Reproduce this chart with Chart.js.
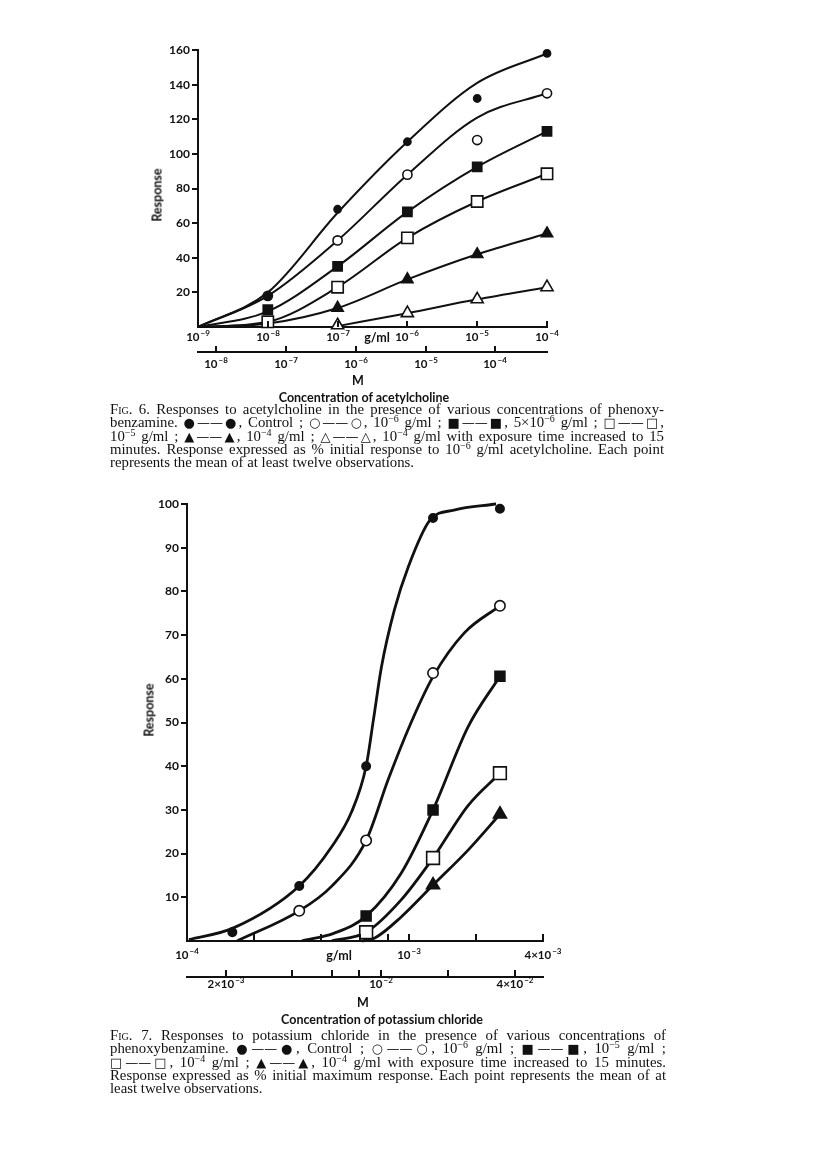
<!DOCTYPE html>
<html>
<head>
<meta charset="utf-8">
<script src="https://cdn.jsdelivr.net/npm/chart.js@4/dist/chart.umd.min.js"></script>
<style>
  body { margin: 0; background: #fff; }
  #page { position: relative; width: 816px; height: 1156px; overflow: hidden; color: #111; }
  canvas { position: absolute; }
  .lbl { position: absolute; font-family: Lato, "DejaVu Sans", sans-serif; font-weight: bold; font-size: 12.5px; white-space: nowrap; }
  .rot { transform: translate(-50%, -50%) rotate(-90deg); }
  .ctr { transform: translate(-50%, -50%); }
  .cap { position: absolute; left: 110px; font-family: "Liberation Serif", "DejaVu Serif", serif; font-size: 14.8px; line-height: 13.3px; }
  .cap div { text-align: justify; text-align-last: justify; white-space: nowrap; }
  .cap div.last { text-align-last: left; }
  .cap sup { font-size: 10px; line-height: 0; vertical-align: 5px; }
  .sym { font-family: "DejaVu Sans", sans-serif; font-size: 13px; }
  .sc { font-variant: small-caps; }
</style>
</head>
<body>
<div id="page">
  <canvas id="achChart" width="500" height="360" style="left:100px; top:30px;"></canvas>
  <div class="lbl rot" style="left:157px; top:195px;">Response</div>
  <div class="lbl ctr" style="left:377px; top:337px;">g/ml</div>
  <div class="lbl ctr" style="left:358px; top:380px;">M</div>
  <div class="lbl ctr" style="left:364px; top:397px;">Concentration of acetylcholine</div>
  <div class="cap" style="top:403px; width:554px;">
    <div><span class="sc">Fig.</span> 6. Responses to acetylcholine in the presence of various concentrations of phenoxy-</div>
    <div>benzamine. <span class="sym">●——●</span>, Control ; <span class="sym">○——○</span>, 10<sup>−6</sup> g/ml ; <span class="sym">■——■</span>, 5×10<sup>−6</sup> g/ml ; <span class="sym">□——□</span>,</div>
    <div>10<sup>−5</sup> g/ml ; <span class="sym">▲——▲</span>, 10<sup>−4</sup> g/ml ; <span class="sym">△——△</span>, 10<sup>−4</sup> g/ml with exposure time increased to 15</div>
    <div>minutes. Response expressed as % initial response to 10<sup>−6</sup> g/ml acetylcholine. Each point</div>
    <div class="last">represents the mean of at least twelve observations.</div>
  </div>

  <canvas id="kclChart" width="500" height="535" style="left:87px; top:480px;"></canvas>
  <div class="lbl rot" style="left:149px; top:710px;">Response</div>
  <div class="lbl ctr" style="left:339px; top:955px;">g/ml</div>
  <div class="lbl ctr" style="left:363px; top:1002px;">M</div>
  <div class="lbl ctr" style="left:382px; top:1019px;">Concentration of potassium chloride</div>
  <div class="cap" style="top:1029px; width:556px;">
    <div><span class="sc">Fig.</span> 7. Responses to potassium chloride in the presence of various concentrations of</div>
    <div>phenoxybenzamine. <span class="sym">●——●</span>, Control ; <span class="sym">○——○</span>, 10<sup>−6</sup> g/ml ; <span class="sym">■——■</span>, 10<sup>−5</sup> g/ml ;</div>
    <div><span class="sym">□——□</span>, 10<sup>−4</sup> g/ml ; <span class="sym">▲——▲</span>, 10<sup>−4</sup> g/ml with exposure time increased to 15 minutes.</div>
    <div>Response expressed as % initial maximum response. Each point represents the mean of at</div>
    <div class="last">least twelve observations.</div>
  </div>
</div>

<script>
// ---- Fig. 6: acetylcholine, concentrations in g/ml ----
const achDoses = [1e-8, 1e-7, 1e-6, 1e-5, 1e-4];
const achControl = [18, 68, 107, 132, 158];
const achPbz1e6 = [18, 50, 88, 108, 135];
const achPbz5e6 = [10, 35, 66.5, 92.5, 113];
const achPbz1e5 = [3, 23, 51.5, 72.5, 88.5];
const achPbz1e4 = [null, 11, 27.5, 42, 54];
const achPbz1e4long = [null, 1, 8, 16, 23];

// fitted curves as drawn in the figure
const achCurveDoses = [1e-9, 1e-8, 1e-7, 1e-6, 1e-5, 1e-4];
const achCurveControl = [0, 20, 66, 107, 141, 158];
const achCurvePbz1e6 = [0, 18, 50, 88, 121, 135];
const achCurvePbz5e6 = [0, 9, 35, 66.5, 92.5, 113];
const achCurvePbz1e5 = [0, 3, 23, 51.5, 72.5, 88.5];
const achCurvePbz1e4 = [0, 2, 11, 27.5, 42, 54];
const achCurvePbz1e4long = [null, null, 0.5, 8, 16, 23];

const achYTicks = [20, 40, 60, 80, 100, 120, 140, 160];
const achGmlTicks = [1e-9, 1e-8, 1e-7, 1e-6, 1e-5, 1e-4];
const achGmlLabels = ['10^-9', '10^-8', '10^-7', '10^-6', '10^-5', '10^-4'];
const achMTicks = [1e-8, 1e-7, 1e-6, 1e-5, 1e-4];
const achMLabels = ['10^-8', '10^-7', '10^-6', '10^-5', '10^-4'];
const achGramsPerMl = 0.1817; // g/ml per mol/l (ACh chloride)

// ---- Fig. 7: potassium chloride, concentrations in g/ml ----
const kclDoses = [1.6e-4, 3.2e-4, 6.4e-4, 1.28e-3, 2.56e-3];
const kclControl = [2, 12.6, 40, 96.8, 98.9];
const kclPbz1e6 = [null, 6.9, 23, 61.3, 76.7];
const kclPbz1e5 = [null, null, 5.7, 30, 60.6];
const kclPbz1e4 = [null, null, 2, 19, 38.4];
const kclPbz1e4long = [null, null, null, 12.8, 29];

const kclCurveControlX = [1.02e-4, 1.62e-4, 3.2e-4, 4.47e-4, 5.5e-4, 6.4e-4, 6.9e-4, 7.5e-4, 8.57e-4, 9.9e-4, 1.24e-3, 1.59e-3, 2.46e-3];
const kclCurveControlY = [0.3, 3, 12.6, 21.5, 29.5, 40, 50.6, 62.7, 75.7, 85.6, 96.3, 98.6, 100];
const kclCurvePbz1e6X = [1.68e-4, 3.2e-4, 4.47e-4, 6.4e-4, 8.05e-4, 1.02e-3, 1.28e-3, 1.77e-3, 2.56e-3];
const kclCurvePbz1e6Y = [0, 6.9, 12.5, 23, 37, 50, 60.5, 70.5, 76.7];
const kclCurvePbz1e5X = [3.28e-4, 4.6e-4, 6.4e-4, 9.2e-4, 1.28e-3, 1.84e-3, 2.56e-3];
const kclCurvePbz1e5Y = [0, 1.8, 5.7, 15.5, 30, 49, 60.6];
const kclCurvePbz1e4X = [4.47e-4, 6.4e-4, 9.2e-4, 1.28e-3, 1.84e-3, 2.56e-3];
const kclCurvePbz1e4Y = [0, 2, 9.4, 19, 31, 38.4];
const kclCurvePbz1e4longX = [6.1e-4, 7.0e-4, 9.2e-4, 1.28e-3, 1.84e-3, 2.56e-3];
const kclCurvePbz1e4longY = [0, 0.7, 5.5, 12.8, 20.8, 29];

const kclYTicks = [10, 20, 30, 40, 50, 60, 70, 80, 90, 100];
const kclGmlTicks = [1e-4, 2e-4, 4e-4, 6e-4, 8e-4, 1e-3, 2e-3, 4e-3];
const kclGmlLabels = ['10^-4', '', '', '', '', '10^-3', '', '4×10^-3'];
const kclMTicks = [2e-3, 4e-3, 6e-3, 8e-3, 1e-2, 2e-2, 4e-2];
const kclMLabels = ['2×10^-3', '', '', '', '10^-2', '', '4×10^-2'];
const kclGramsPerMl = 0.07455; // g/ml per mol/l

const ink = '#111';
const fontFam = 'Lato, "DejaVu Sans", sans-serif';
const tickFont = { family: fontFam, weight: 'bold', size: 12 };

function pts(xs, ys) {
    const out = [];
    xs.forEach((x, i) => { if (ys[i] !== null) out.push({ x: x, y: ys[i] }); });
    return out;
}

function markers(xs, ys, style, filled, r) {
    return {
        data: pts(xs, ys),
        showLine: false,
        pointStyle: style,
        pointRadius: r,
        pointHoverRadius: r,
        pointBorderColor: ink,
        pointBorderWidth: 1.6,
        pointBackgroundColor: filled ? ink : '#fff',
        clip: false
    };
}

function curve(xs, ys, w) {
    return {
        data: pts(xs, ys),
        showLine: true,
        borderColor: ink,
        borderWidth: w,
        pointRadius: 0,
        cubicInterpolationMode: 'monotone',
        clip: false
    };
}

// concentration axes: ticks pointing up, labels like 10^-8 with a raised exponent
const concAxes = {
    id: 'concAxes',
    afterDraw(chart, args, opts) {
        const ctx = chart.ctx;
        ctx.save();
        ctx.strokeStyle = ink;
        ctx.fillStyle = ink;
        ctx.lineWidth = 2;
        ['x', 'x2'].forEach(id => {
            const s = chart.scales[id];
            const labels = opts.labels[id];
            s.ticks.forEach((t, i) => {
                const px = Math.round(s.getPixelForValue(t.value));
                if (t.value > s.min * 1.001) {
                    ctx.beginPath();
                    ctx.moveTo(px, s.top);
                    ctx.lineTo(px, s.top - opts.length);
                    ctx.stroke();
                }
                const txt = labels[i];
                if (!txt) return;
                const parts = txt.split('^');
                const base = parts[0];
                const exp = parts[1].replace('-', '−');
                ctx.font = 'bold 11.5px ' + fontFam;
                const wb = ctx.measureText(base).width;
                ctx.font = 'bold 8px ' + fontFam;
                const we = ctx.measureText(exp).width;
                const x0 = px - (wb + we + 1) / 2;
                const yb = s.top + opts.baseline[id];
                ctx.font = 'bold 11.5px ' + fontFam;
                ctx.fillText(base, x0, yb);
                ctx.font = 'bold 8px ' + fontFam;
                ctx.fillText(exp, x0 + wb + 1, yb - 5);
            });
        });
        ctx.restore();
    }
};

function makeScales(cfg) {
    return {
        y: {
            min: 0, max: cfg.yMax,
            afterFit: s => { s.width = cfg.yWidth; },
            afterBuildTicks: s => { s.ticks = cfg.yTicks.map(v => ({ value: v })); },
            grid: { drawOnChartArea: false, drawTicks: true, tickLength: 6, color: ink, lineWidth: 2 },
            border: { color: ink, width: 2 },
            ticks: { color: ink, font: tickFont, padding: 2 }
        },
        x: {
            type: 'logarithmic', position: 'bottom', weight: 0,
            min: cfg.xMin, max: cfg.xMax,
            afterFit: s => { s.height = cfg.xHeight; },
            afterBuildTicks: s => { s.ticks = cfg.gmlTicks.map(v => ({ value: v })); },
            grid: { display: false, drawTicks: false },
            border: { color: ink, width: 2 },
            ticks: { display: false }
        },
        x2: {
            type: 'logarithmic', position: 'bottom', weight: 1,
            min: cfg.xMin / cfg.factor, max: cfg.xMax / cfg.factor,
            afterFit: s => { s.height = 30; },
            afterBuildTicks: s => { s.ticks = cfg.mTicks.map(v => ({ value: v })); },
            grid: { display: false, drawTicks: false },
            border: { color: ink, width: 2 },
            ticks: { display: false }
        }
    };
}

new Chart(document.getElementById('achChart'), {
    type: 'scatter',
    data: {
        datasets: [
            markers(achDoses, achControl, 'circle', true, 3.6),
            markers(achDoses, achPbz1e6, 'circle', false, 4.6),
            markers(achDoses, achPbz5e6, 'rect', true, 6.5),
            markers(achDoses, achPbz1e5, 'rect', false, 8),
            markers(achDoses, achPbz1e4, 'triangle', true, 6.5),
            markers(achDoses, achPbz1e4long, 'triangle', false, 7),
            curve(achCurveDoses, achCurveControl, 2),
            curve(achCurveDoses, achCurvePbz1e6, 2),
            curve(achCurveDoses, achCurvePbz5e6, 2),
            curve(achCurveDoses, achCurvePbz1e5, 2),
            curve(achCurveDoses, achCurvePbz1e4, 2),
            curve(achCurveDoses, achCurvePbz1e4long, 2)
        ]
    },
    options: {
        responsive: false,
        animation: false,
        events: [],
        layout: { padding: { left: 0, top: 20, right: 53, bottom: 8 } },
        plugins: {
            legend: { display: false }, tooltip: { enabled: false },
            concAxes: { length: 6, labels: { x: achGmlLabels, x2: achMLabels }, baseline: { x: 14, x2: 16 } }
        },
        scales: makeScales({
            yMax: 160, yWidth: 98, yTicks: achYTicks,
            xMin: 1e-9, xMax: 1e-4, xHeight: 25, factor: achGramsPerMl,
            gmlTicks: achGmlTicks, mTicks: achMTicks
        })
    },
    plugins: [concAxes]
});

new Chart(document.getElementById('kclChart'), {
    type: 'scatter',
    data: {
        datasets: [
            markers(kclDoses, kclControl, 'circle', true, 4.2),
            markers(kclDoses, kclPbz1e6, 'circle', false, 5.2),
            markers(kclDoses, kclPbz1e5, 'rect', true, 7),
            markers(kclDoses, kclPbz1e4, 'rect', false, 9),
            markers(kclDoses, kclPbz1e4long, 'triangle', true, 7.5),
            curve(kclCurveControlX, kclCurveControlY, 2.8),
            curve(kclCurvePbz1e6X, kclCurvePbz1e6Y, 2.8),
            curve(kclCurvePbz1e5X, kclCurvePbz1e5Y, 2.8),
            curve(kclCurvePbz1e4X, kclCurvePbz1e4Y, 2.8),
            curve(kclCurvePbz1e4longX, kclCurvePbz1e4longY, 2.8)
        ]
    },
    options: {
        responsive: false,
        animation: false,
        events: [],
        layout: { padding: { left: 0, top: 24, right: 44, bottom: 8 } },
        plugins: {
            legend: { display: false }, tooltip: { enabled: false },
            concAxes: { length: 7, labels: { x: kclGmlLabels, x2: kclMLabels }, baseline: { x: 18, x2: 11 } }
        },
        scales: makeScales({
            yMax: 100, yWidth: 100, yTicks: kclYTicks,
            xMin: 1e-4, xMax: 4e-3, xHeight: 36, factor: kclGramsPerMl,
            gmlTicks: kclGmlTicks, mTicks: kclMTicks
        })
    },
    plugins: [concAxes]
});
</script>
</body>
</html>
